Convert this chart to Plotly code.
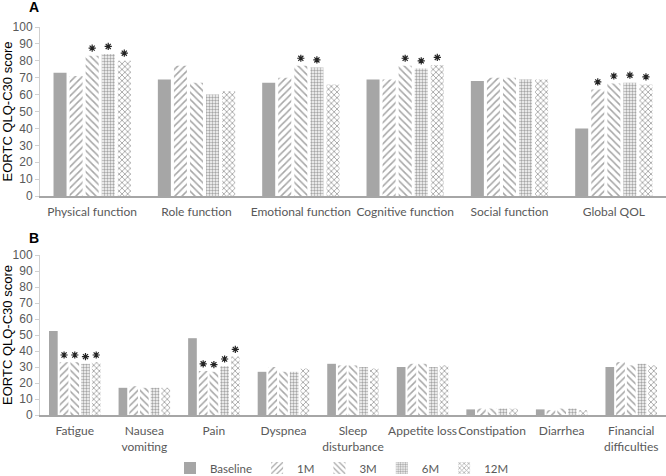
import plotly.graph_objects as go
from plotly.subplots import make_subplots

series = ["Baseline", "1M", "3M", "6M", "12M"]

cats_a = ["Physical function", "Role function", "Emotional function",
          "Cognitive function", "Social function", "Global QOL"]
a_baseline = [73, 69, 67, 69, 68, 40]
a_1m = [71, 77, 70, 69, 70, 63]
a_3m = [83, 67, 77, 77, 70, 66.5]
a_6m = [84, 60, 76, 75.5, 69, 67]
a_12m = [80, 62, 66, 77.5, 69, 66]
a_sig_1m = [0, 0, 0, 0, 0, 1]
a_sig_3m = [1, 0, 1, 1, 0, 1]
a_sig_6m = [1, 0, 1, 1, 0, 1]
a_sig_12m = [1, 0, 0, 1, 0, 1]

cats_b = ["Fatigue", "Nausea<br>vomiting", "Pain", "Dyspnea", "Sleep<br>disturbance",
          "Appetite loss", "Constipation", "Diarrhea", "Financial<br>difficulties"]
b_baseline = [52.5, 17, 48, 27, 32, 30, 3.5, 3.5, 30]
b_1m = [33, 18, 27.5, 30, 31, 32, 4, 3, 33]
b_3m = [33, 17, 27, 27, 31, 32, 4, 4, 31]
b_6m = [32, 17, 30.5, 27, 30, 30, 4, 4, 32]
b_12m = [33, 17, 36.5, 29, 29, 31, 4, 3, 31]
b_sig_1m = [1, 0, 1, 0, 0, 0, 0, 0, 0]
b_sig_3m = [1, 0, 1, 0, 0, 0, 0, 0, 0]
b_sig_6m = [1, 0, 1, 0, 0, 0, 0, 0, 0]
b_sig_12m = [1, 0, 1, 0, 0, 0, 0, 0, 0]

yticks = [0, 10, 20, 30, 40, 50, 60, 70, 80, 90, 100]

GREY = "#a6a6a6"
patterns = ["", "/", "\\", ".", "x"]
psizes = [8, 5, 5, 3, 4]
psol = [0.3, 0.3, 0.3, 0.5, 0.4]
STAR_OFFSET = 4.5

fig = make_subplots(rows=2, cols=1)

data_a = [a_baseline, a_1m, a_3m, a_6m, a_12m]
sig_a = [[0] * len(cats_a), a_sig_1m, a_sig_3m, a_sig_6m, a_sig_12m]
data_b = [b_baseline, b_1m, b_3m, b_6m, b_12m]
sig_b = [[0] * len(cats_b), b_sig_1m, b_sig_3m, b_sig_6m, b_sig_12m]

for row, cats, data, sigs in [(1, cats_a, data_a, sig_a), (2, cats_b, data_b, sig_b)]:
    for i, name in enumerate(series):
        if patterns[i] == "":
            marker = dict(color=GREY, line=dict(width=0))
        else:
            marker = dict(color="white", line=dict(width=0),
                          pattern=dict(shape=patterns[i], fgcolor=GREY, bgcolor="white",
                                       size=psizes[i], solidity=psol[i], fillmode="replace"))
        fig.add_trace(go.Bar(
            x=cats, y=data[i], name=name, marker=marker,
            offsetgroup=name,
            showlegend=(row == 1), legendgroup=name,
        ), row=row, col=1)
    for i, name in enumerate(series):
        fig.add_trace(go.Scatter(
            x=cats,
            y=[v + STAR_OFFSET if s else None for v, s in zip(data[i], sigs[i])],
            mode="markers", offsetgroup=name,
            marker=dict(symbol="asterisk-open", size=6, color="#222222",
                        line=dict(color="#222222", width=1.2)),
            showlegend=False, hoverinfo="skip", cliponaxis=False,
        ), row=row, col=1)

fig.update_layout(
    width=666, height=476,
    margin=dict(l=40, r=0, t=0, b=0, autoexpand=False),
    paper_bgcolor="white", plot_bgcolor="white",
    barmode="group", bargap=0.23, bargroupgap=0.19,
    scattermode="group", scattergap=0.23,
    font=dict(family="Lato", color="#595959", size=12),
    legend=dict(orientation="h", x=(342 - 40) / 626, xanchor="center",
                y=1 - 468 / 476, yanchor="middle",
                font=dict(family="Lato", size=11.5, color="#595959"), itemwidth=30,
                tracegroupgap=0),
    showlegend=True,
)

fig.update_xaxes(showline=True, linecolor="#a6a6a6", linewidth=1.5, ticks="",
                 showgrid=False, automargin=False, ticklabelstandoff=4,
                 tickfont=dict(family="Lato", size=12, color="#595959"),
                 domain=[0, 1], tickangle=0)
fig.update_yaxes(range=[0, 100], tickvals=yticks, showline=True, linecolor="#d0d0d0",
                 ticks="outside", ticklen=4, tickcolor="#d0d0d0", showgrid=False,
                 zeroline=False, automargin=False,
                 tickfont=dict(family="Arial", size=12, color="#595959"),
                 title=dict(text="EORTC QLQ-C30 score",
                            font=dict(family="Arial", size=13, color="black"), standoff=2))
fig.update_yaxes(domain=[1 - 196 / 476, 1 - 27 / 476], row=1, col=1)
fig.update_yaxes(domain=[1 - 415 / 476, 1 - 255 / 476], row=2, col=1)

fig.add_annotation(text="<b>A</b>", x=-6 / 626, y=1 - 7 / 476, xref="paper", yref="paper",
                   showarrow=False, font=dict(family="Arial", size=14, color="black"),
                   xanchor="center", yanchor="middle")
fig.add_annotation(text="<b>B</b>", x=-6 / 626, y=1 - 238 / 476, xref="paper", yref="paper",
                   showarrow=False, font=dict(family="Arial", size=14, color="black"),
                   xanchor="center", yanchor="middle")

fig.write_html("out.html", config={"displayModeBar": False},
               post_script="document.body.style.margin='0';")
